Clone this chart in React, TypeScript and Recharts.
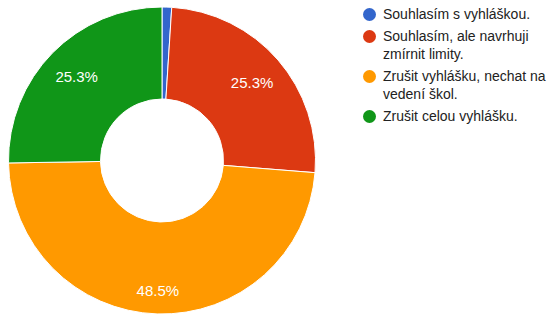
import React from 'react';
import {Cell, Legend, Pie, PieChart} from 'recharts';

const categories = [
    'Souhlasím s vyhláškou.',
    'Souhlasím, ale navrhuji zmírnit limity.',
    'Zrušit vyhlášku, nechat na vedení škol.',
    'Zrušit celou vyhlášku.',
];
const responses = [1, 25, 48, 25];
const colors = ['#3366cc', '#dc3912', '#ff9900', '#109618'];

const data = categories.map((name, i) => ({name, value: responses[i]}));

const FONT = '"Liberation Sans", Arial, sans-serif';
const RAD = Math.PI / 180;

// put the label box inside the slice, its far corner a fixed distance in from the rim
const renderLabel = (props: any) => {
    const {cx, cy, midAngle, outerRadius, percent} = props;
    if (percent < 0.05) return null;
    const dx = Math.cos(-midAngle * RAD);
    const dy = Math.sin(-midAngle * RAD);
    const hw = 20;
    const hh = 6;
    const R = outerRadius - 15;
    const B = hw * Math.abs(dx) + hh * Math.abs(dy);
    const d = -B + Math.sqrt(B * B - (hw * hw + hh * hh - R * R));
    return (
        <text
            x={cx + d * dx}
            y={cy + d * dy}
            fill="#ffffff"
            textAnchor="middle"
            dominantBaseline="central"
            fontSize={15}
            fontFamily={FONT}
        >
            {(percent * 100).toFixed(1)}%
        </text>
    );
};

// legend keeps the data order (recharts would sort it by name)
const renderLegend = () => (
    <div style={{fontFamily: FONT, fontSize: 14, color: '#222222'}}>
        {categories.map((name, i) => (
            <div key={name} style={{display: 'flex', alignItems: 'flex-start', marginBottom: 4, lineHeight: '18px'}}>
                <span
                    style={{
                        width: 13,
                        height: 13,
                        borderRadius: '50%',
                        background: colors[i],
                        marginTop: 2.5,
                        marginRight: 7,
                        flex: 'none',
                    }}
                />
                <span style={{width: 169}}>{name}</span>
            </div>
        ))}
    </div>
);

export default function App() {
    return (
        <div style={{position: 'absolute', top: 0, left: 0, width: 552, height: 322, background: '#fff'}}>
            <PieChart width={552} height={322} margin={{top: 0, right: 0, bottom: 0, left: 0}}>
                <Pie
                    data={data}
                    dataKey="value"
                    nameKey="name"
                    cx={162}
                    cy={160.5}
                    innerRadius={61.5}
                    outerRadius={153.5}
                    startAngle={90}
                    endAngle={-270}
                    stroke="#ffffff"
                    strokeWidth={1}
                    label={renderLabel}
                    labelLine={false}
                    isAnimationActive={false}
                >
                    {data.map((d, i) => (
                        <Cell key={d.name} fill={colors[i]}/>
                    ))}
                </Pie>
                <Legend
                    layout="vertical"
                    align="right"
                    verticalAlign="top"
                    content={renderLegend}
                    wrapperStyle={{top: 5, left: 363, width: 189}}
                />
            </PieChart>
        </div>
    );
}
